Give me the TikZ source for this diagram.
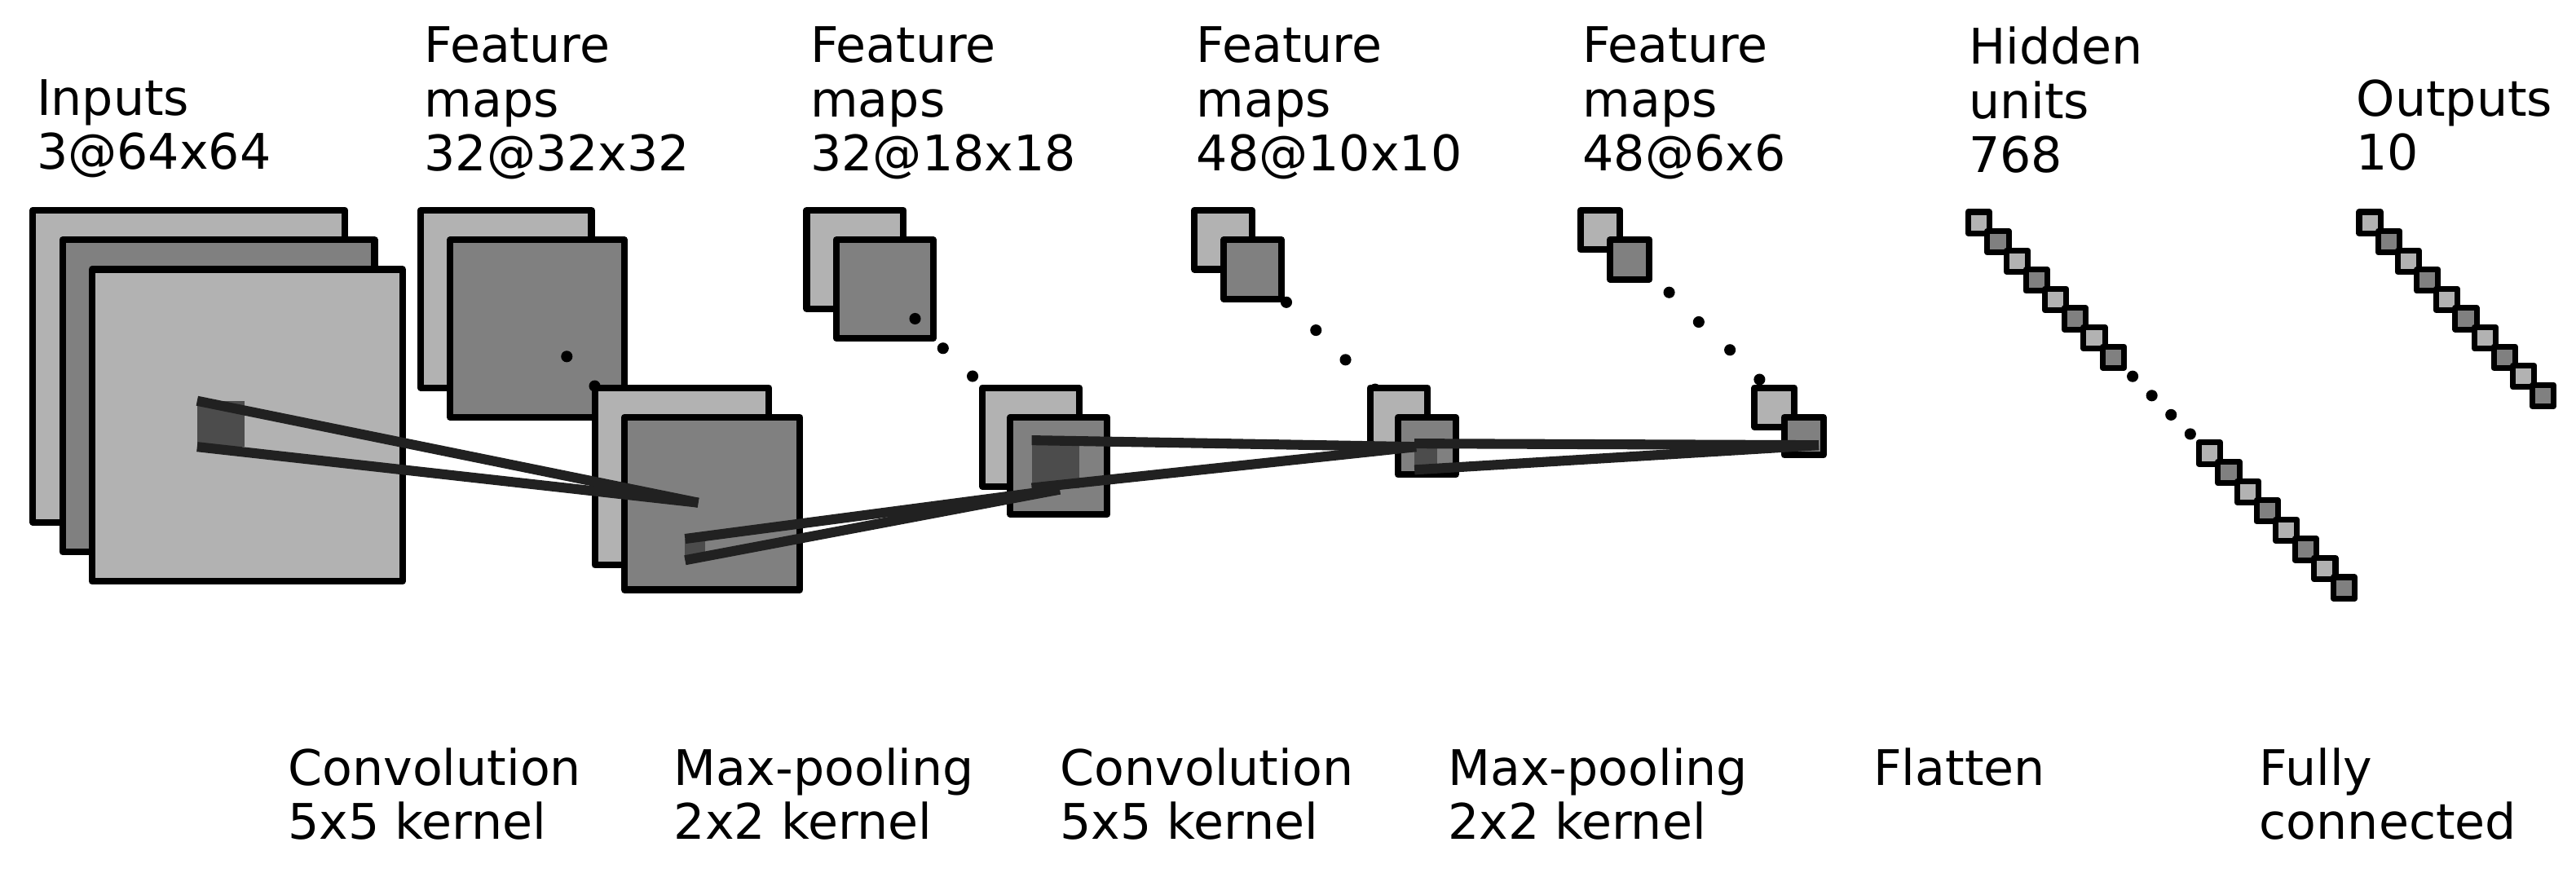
\documentclass[tikz,border=0pt]{standalone}
\usepackage{fontspec}
\setmainfont{DejaVu Sans}
\begin{document}
\begin{tikzpicture}[x=0.02cm,y=-0.02cm,
    lbl/.style={anchor=north west,inner sep=0pt,align=left,font=\fontsize{17}{18.8}\selectfont},
    lite/.style={draw=black,fill=black!30,line width=0.08cm,line join=round},
    dark/.style={draw=black,fill=black!50,line width=0.08cm,line join=round},
    patch/.style={fill=black!70},
    unitL/.style={draw=black,fill=black!30,line width=0.07cm,line join=round},
    unitD/.style={draw=black,fill=black!50,line width=0.07cm,line join=round},
    conn/.style={draw=black!87,line width=0.12cm},
    dot/.style={fill=black}]
\useasboundingbox (0,0) rectangle (1568,531);
% inputs
\draw[lite] (20,128) rectangle (210,318);
\draw[dark] (38,146) rectangle (228,336);
\draw[lite] (56,164) rectangle (245,354);
% feature maps 32@32x32
\draw[lite] (256,128) rectangle (360,236);
\draw[dark] (274,146) rectangle (380,254);
\fill[dot] (345,217) circle (3.5) (362,235) circle (3.5);
\draw[lite] (362,236) rectangle (468,344);
\draw[dark] (380,254) rectangle (487,359);
% feature maps 32@18x18
\draw[lite] (491,128) rectangle (550,188);
\draw[dark] (509,146) rectangle (568,206);
\fill[dot] (557,194) circle (3.5) (574,212) circle (3.5) (592,229) circle (3.5);
\draw[lite] (598,236) rectangle (657,296);
\draw[dark] (615,254) rectangle (674,313);
% feature maps 48@10x10
\draw[lite] (727,128) rectangle (762,164);
\draw[dark] (745,146) rectangle (780,182);
\fill[dot] (783,184) circle (3.5) (801,201) circle (3.5) (819,219) circle (3.5) (837,237) circle (3.5);
\draw[lite] (834,236) rectangle (869,272);
\draw[dark] (851,254) rectangle (886,289);
% feature maps 48@6x6
\draw[lite] (962,128) rectangle (986,152);
\draw[dark] (980,146) rectangle (1004,170);
\fill[dot] (1016,178) circle (3.5) (1034,196) circle (3.5) (1053,213) circle (3.5) (1071,231) circle (3.5);
\draw[lite] (1068,236) rectangle (1092,260);
\draw[dark] (1086,254) rectangle (1110,277);
% hidden units
\foreach \i in {0,...,19}{
  \pgfmathsetmacro\cx{1204.5+11.7*\i}
  \pgfmathsetmacro\cy{135.5+11.7*\i}
  \ifnum\i<8
    \pgfmathparse{mod(\i,2)==0?"unitL":"unitD"}
    \draw[\pgfmathresult] (\cx-6.5,\cy-6.5) rectangle (\cx+6.5,\cy+6.5);
  \else\ifnum\i<12
    \fill[dot] (\cx,\cy) circle (3.5);
  \else
    \pgfmathparse{mod(\i,2)==0?"unitL":"unitD"}
    \draw[\pgfmathresult] (\cx-6.5,\cy-6.5) rectangle (\cx+6.5,\cy+6.5);
  \fi\fi}
% outputs
\foreach \i in {0,...,9}{
  \pgfmathsetmacro\cx{1442.5+11.7*\i}
  \pgfmathsetmacro\cy{135.5+11.7*\i}
  \pgfmathparse{mod(\i,2)==0?"unitL":"unitD"}
  \draw[\pgfmathresult] (\cx-6.5,\cy-6.5) rectangle (\cx+6.5,\cy+6.5);}
% patches and their targets
\fill[patch] (120,244) rectangle (149,272);
\coordinate (p1a) at (120,244); \coordinate (p1b) at (120,272);
\coordinate (t1) at (425,306);
\fill[patch] (417,328) rectangle (429,341);
\coordinate (p2a) at (417,328); \coordinate (p2b) at (417,341);
\coordinate (t2) at (645,298);
\fill[patch] (628,267) rectangle (657,297);
\coordinate (p3a) at (628,268); \coordinate (p3b) at (628,297);
\coordinate (t3) at (862,272);
\fill[patch] (861,270) rectangle (875,286);
\coordinate (p4a) at (861,270); \coordinate (p4b) at (861,286);
\coordinate (t4) at (1107,271);
\foreach \k in {1,2,3,4}{
  \draw[conn] (p\k a) -- (t\k);
  \draw[conn] (p\k b) -- (t\k);}
% top labels
\node[lbl] (lin) at (22,48) {Inputs\\3@64x64};
\node[lbl] (lf1) at (258,16) {Feature\\maps\\32@32x32};
\node[lbl] (lf2) at (493,16) {Feature\\maps\\32@18x18};
\node[lbl] (lf3) at (728,16) {Feature\\maps\\48@10x10};
\node[lbl] (lf4) at (963,16) {Feature\\maps\\48@6x6};
\node[lbl] (lhid) at (1198,16) {Hidden\\units\\768};
\node[lbl] (lout) at (1434,48) {Outputs\\10};
% bottom labels
\node[lbl] (bc1) at (175,455) {Convolution\\5x5 kernel};
\node[lbl] (bp1) at (410,455) {Max-pooling\\2x2 kernel};
\node[lbl] (bc2) at (645,455) {Convolution\\5x5 kernel};
\node[lbl] (bp2) at (881,455) {Max-pooling\\2x2 kernel};
\node[lbl] (bfl) at (1140,455) {Flatten};
\node[lbl] (bfc) at (1375,455) {Fully\\connected};
\end{tikzpicture}
\end{document}
